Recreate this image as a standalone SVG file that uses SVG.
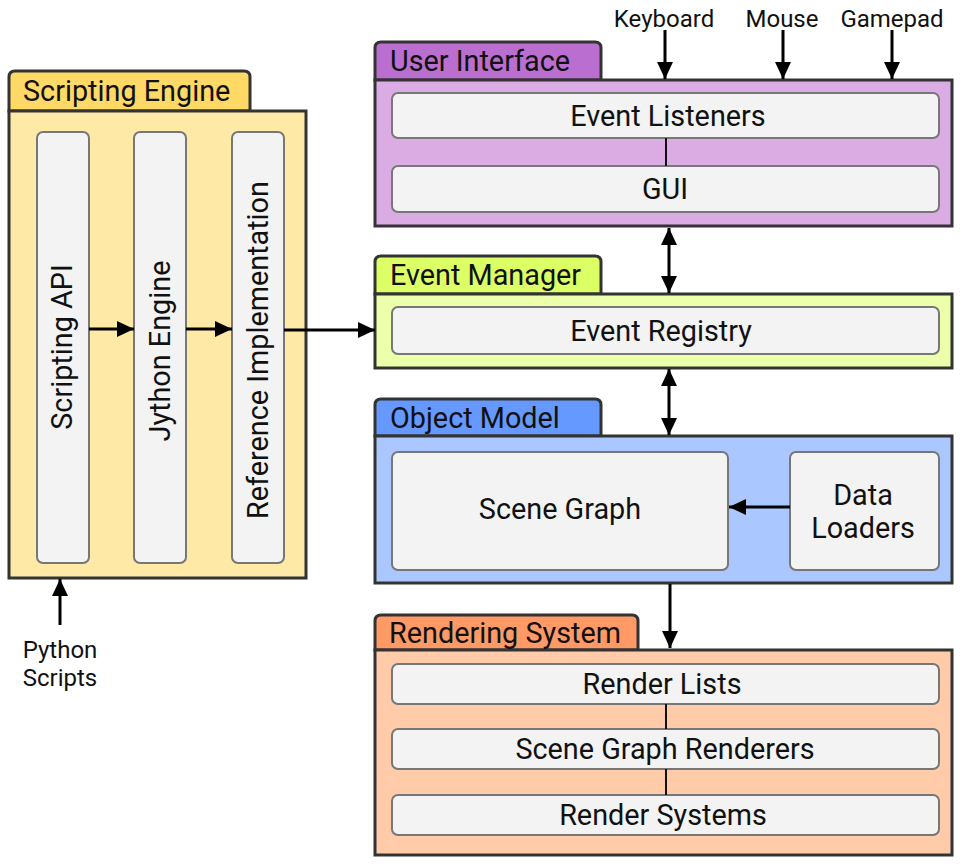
<svg xmlns="http://www.w3.org/2000/svg" width="965" height="866" viewBox="0 0 965 866">
<style>
text{font-family:Roboto,"Liberation Sans",Arial,sans-serif;fill:#111;}
.lbl{font-size:28.8px;}
.sm{font-size:24px;}
.mid{text-anchor:middle;}
.tab,.body{stroke:#333;stroke-width:3;}
.inner{fill:#f3f3f3;stroke:#777;stroke-width:2;}
.conn{stroke:#000;stroke-width:3;fill:none;}
.thin{stroke:#111;stroke-width:2;fill:none;}
</style>
<defs>
<marker id="ah" markerUnits="userSpaceOnUse" markerWidth="18" markerHeight="18" viewBox="0 0 18 18" refX="17" refY="9" orient="auto-start-reverse">
<path d="M0,1 L17,9 L0,17 Z" fill="#000"/>
</marker>
</defs>
<rect width="965" height="866" fill="#fff"/>

<g id="scripting-engine">
<path class="tab" fill="#ffd966" d="M9,111 L9,77 Q9,71 15,71 L244,71 Q250,71 250,77 L250,111 Z"/>
<rect class="body" fill="#ffe9a6" x="9" y="111" width="297" height="467"/>
<text class="lbl" x="23" y="101">Scripting Engine</text>
<g id="scripting-api">
<rect class="inner" x="37" y="132" width="52" height="431" rx="6"/>
<text class="lbl mid" transform="translate(72,347) rotate(-90)">Scripting API</text>
</g>
<g id="jython-engine">
<rect class="inner" x="134" y="132" width="52" height="431" rx="6"/>
<text class="lbl mid" transform="translate(170,351) rotate(-90)">Jython Engine</text>
</g>
<g id="reference-implementation">
<rect class="inner" x="232" y="132" width="52" height="431" rx="6"/>
<text class="lbl mid" transform="translate(268,350) rotate(-90)">Reference Implementation</text>
</g>
</g>

<g id="user-interface">
<path class="tab" fill="#ba6fd0" d="M375,80 L375,48 Q375,42 381,42 L595,42 Q601,42 601,48 L601,80 Z"/>
<rect class="body" fill="#dbace4" x="375" y="80" width="577" height="146"/>
<text class="lbl" x="390" y="71">User Interface</text>
<g id="event-listeners">
<rect class="inner" x="392" y="93" width="547" height="45" rx="6"/>
<text class="lbl mid" x="668" y="126">Event Listeners</text>
</g>
<g id="gui">
<rect class="inner" x="392" y="166" width="547" height="46" rx="6"/>
<text class="lbl mid" x="665" y="199">GUI</text>
</g>
</g>

<g id="event-manager">
<path class="tab" fill="#ddff66" d="M375,294 L375,262 Q375,256 381,256 L595,256 Q601,256 601,262 L601,294 Z"/>
<rect class="body" fill="#ecffaa" x="375" y="294" width="577" height="74"/>
<text class="lbl" x="390" y="285">Event Manager</text>
<g id="event-registry">
<rect class="inner" x="392" y="307" width="547" height="47" rx="6"/>
<text class="lbl mid" x="661" y="341">Event Registry</text>
</g>
</g>

<g id="object-model">
<path class="tab" fill="#6699ff" d="M375,436 L375,405 Q375,399 381,399 L595,399 Q601,399 601,405 L601,436 Z"/>
<rect class="body" fill="#aac8ff" x="375" y="436" width="577" height="147"/>
<text class="lbl" x="390" y="428">Object Model</text>
<g id="scene-graph">
<rect class="inner" x="392" y="452" width="336" height="118" rx="6"/>
<text class="lbl mid" x="560" y="519">Scene Graph</text>
</g>
<g id="data-loaders">
<rect class="inner" x="790" y="452" width="149" height="118" rx="6"/>
<text class="lbl mid" x="863" y="505">Data</text>
<text class="lbl mid" x="863" y="538">Loaders</text>
</g>
</g>

<g id="rendering-system">
<path class="tab" fill="#ff9966" d="M375,650 L375,621 Q375,615 381,615 L632,615 Q638,615 638,621 L638,650 Z"/>
<rect class="body" fill="#ffcba8" x="375" y="650" width="577" height="205"/>
<text class="lbl" x="389" y="643">Rendering System</text>
<g id="render-lists">
<rect class="inner" x="392" y="664" width="547" height="40" rx="6"/>
<text class="lbl mid" x="662" y="694">Render Lists</text>
</g>
<g id="scene-graph-renderers">
<rect class="inner" x="392" y="729" width="547" height="40" rx="6"/>
<text class="lbl mid" x="665" y="759">Scene Graph Renderers</text>
</g>
<g id="render-systems">
<rect class="inner" x="392" y="795" width="547" height="40" rx="6"/>
<text class="lbl mid" x="663" y="825">Render Systems</text>
</g>
</g>

<g id="external-labels">
<text class="sm mid" x="664" y="27">Keyboard</text>
<text class="sm mid" x="782" y="27">Mouse</text>
<text class="sm mid" x="892" y="27">Gamepad</text>
<text class="sm mid" x="60" y="658">Python</text>
<text class="sm mid" x="60" y="686">Scripts</text>
</g>

<g id="connectors">
<line class="conn" x1="89" y1="329" x2="134" y2="329" marker-end="url(#ah)"/>
<line class="conn" x1="186" y1="329" x2="232" y2="329" marker-end="url(#ah)"/>
<line class="conn" x1="284" y1="330" x2="375" y2="330" marker-end="url(#ah)"/>
<line class="conn" x1="60" y1="625" x2="60" y2="579" marker-end="url(#ah)"/>
<line class="conn" x1="665" y1="30" x2="665" y2="79" marker-end="url(#ah)"/>
<line class="conn" x1="783" y1="30" x2="783" y2="79" marker-end="url(#ah)"/>
<line class="conn" x1="892" y1="30" x2="892" y2="79" marker-end="url(#ah)"/>
<line class="conn" x1="669" y1="228" x2="669" y2="293" marker-start="url(#ah)" marker-end="url(#ah)"/>
<line class="conn" x1="669" y1="369" x2="669" y2="435" marker-start="url(#ah)" marker-end="url(#ah)"/>
<line class="conn" x1="670" y1="584" x2="670" y2="648" marker-end="url(#ah)"/>
<line class="conn" x1="790" y1="507" x2="729" y2="507" marker-end="url(#ah)"/>
<line class="thin" x1="666" y1="138" x2="666" y2="166"/>
<line class="thin" x1="666" y1="704" x2="666" y2="729"/>
<line class="thin" x1="666" y1="769" x2="666" y2="795"/>
</g>
</svg>
